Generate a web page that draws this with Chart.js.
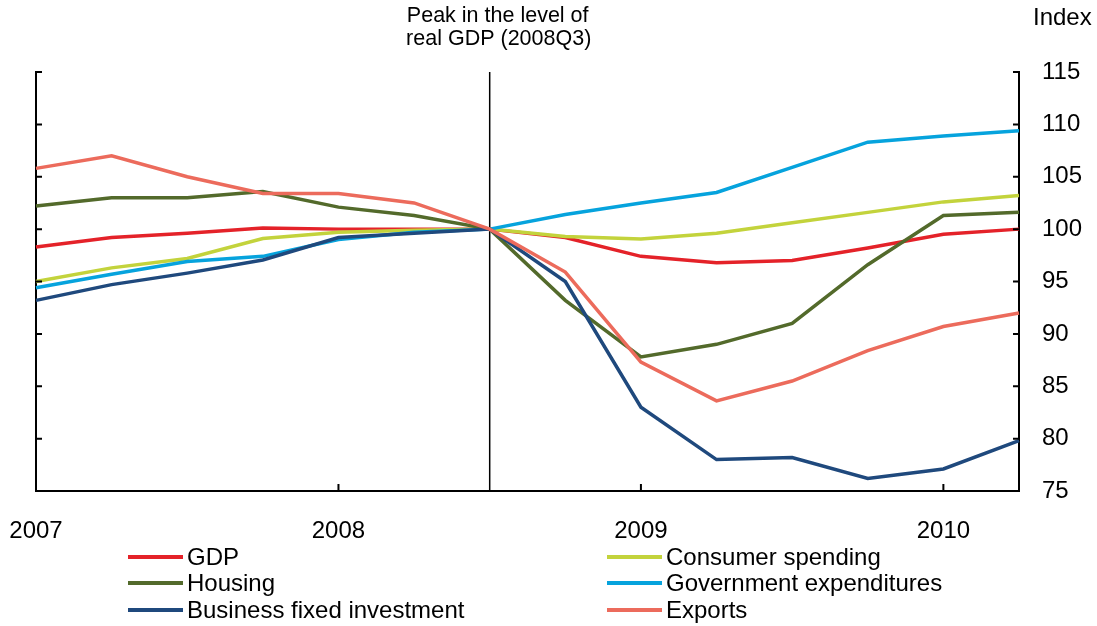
<!DOCTYPE html>
<html><head><meta charset="utf-8">
<script src="https://cdn.jsdelivr.net/npm/chart.js@4/dist/chart.umd.min.js"></script>
<style>
html,body{margin:0;padding:0;background:#fff}
#wrap{position:relative;width:1097px;height:626px}
</style>
</head><body>
<div id="wrap"><canvas id="c" width="1097" height="626"></canvas></div>
<script>
const quarters = ['2007Q1','2007Q2','2007Q3','2007Q4','2008Q1','2008Q2','2008Q3','2008Q4','2009Q1','2009Q2','2009Q3','2009Q4','2010Q1','2010Q2'];
const yearLabels = {'2007Q1':'2007','2008Q1':'2008','2009Q1':'2009','2010Q1':'2010'};
const peakQuarter = '2008Q3';
const yTicks = [75,80,85,90,95,100,105,110,115];

const gdp        = [98.3, 99.2, 99.6, 100.1, 100.0, 100.0, 100, 99.2, 97.4, 96.8, 97.0, 98.2, 99.5, 100.0];
const consumer   = [95.0, 96.3, 97.2, 99.1, 99.7, 99.9, 100, 99.3, 99.05, 99.6, 100.6, 101.6, 102.6, 103.2];
const housing    = [102.2, 103.0, 103.0, 103.6, 102.1, 101.3, 100, 93.2, 87.8, 89.0, 91.0, 96.6, 101.3, 101.6];
const government = [94.4, 95.7, 96.9, 97.4, 99.0, 99.7, 100, 101.4, 102.5, 103.5, 105.9, 108.3, 108.9, 109.4];
const business   = [93.2, 94.7, 95.8, 97.05, 99.2, 99.6, 100, 95.0, 83.0, 78.0, 78.2, 76.2, 77.1, 79.8];
const exportsS   = [105.8, 107.0, 105.0, 103.4, 103.4, 102.5, 100, 95.9, 87.3, 83.6, 85.5, 88.4, 90.7, 92.0];

const seriesNames  = ['GDP','Consumer spending','Housing','Government expenditures','Business fixed investment','Exports'];
const seriesData   = [gdp, consumer, housing, government, business, exportsS];
const seriesColors = ['#e42229','#c3d33c','#536a2b','#06a3dd','#1f497d','#ec6b5c'];

const FONT = '"Liberation Sans", Arial, sans-serif';

const datasets = seriesNames.map((n,i)=>({
  label:n, data:seriesData[i], borderColor:seriesColors[i], backgroundColor:seriesColors[i],
  borderWidth:3.5, pointRadius:0, tension:0, fill:false, order:seriesNames.length-i
}));

const deco = {
  id:'deco',
  beforeDatasetsDraw(chart){
    const ctx=chart.ctx, x=chart.scales.x, ca=chart.chartArea;
    const px=x.getPixelForValue(quarters.indexOf(peakQuarter));
    ctx.save();
    ctx.strokeStyle='#000'; ctx.lineWidth=1.5;
    ctx.beginPath(); ctx.moveTo(px,ca.top); ctx.lineTo(px,ca.bottom); ctx.stroke();
    ctx.restore();
  },
  afterDraw(chart){
    const ctx=chart.ctx, x=chart.scales.x, yr=chart.scales.y, ca=chart.chartArea;
    ctx.save();
    ctx.strokeStyle='#000'; ctx.lineWidth=2;
    ctx.beginPath();
    yTicks.forEach(v=>{
      const py=yr.getPixelForValue(v);
      ctx.moveTo(ca.left,py); ctx.lineTo(ca.left+6,py);
      ctx.moveTo(ca.right,py); ctx.lineTo(ca.right-6,py);
    });
    quarters.forEach((q,i)=>{
      if(yearLabels[q]){
        const px=x.getPixelForValue(i);
        ctx.moveTo(px,ca.bottom); ctx.lineTo(px,ca.bottom-7);
      }
    });
    ctx.stroke();
    // annotation
    ctx.fillStyle='#000';
    ctx.font='21.5px '+FONT;
    ctx.textAlign='center'; ctx.textBaseline='alphabetic';
    const px=x.getPixelForValue(quarters.indexOf(peakQuarter));
    ctx.fillText('Peak in the level of', px+8, 22);
    ctx.fillText('real GDP (2008Q3)', px+9, 45);
    ctx.font='24px '+FONT;
    ctx.textAlign='left';
    ctx.fillText('Index', 1033, 25);
    // legend
    const colX=[128,607], rowY=[557,583,610];
    ctx.textBaseline='middle';
    seriesNames.forEach((n,i)=>{
      const cx=colX[i%2], cy=rowY[Math.floor(i/2)];
      ctx.strokeStyle=seriesColors[i]; ctx.lineWidth=4;
      ctx.beginPath(); ctx.moveTo(cx,cy); ctx.lineTo(cx+55,cy); ctx.stroke();
      ctx.fillStyle='#000';
      ctx.fillText(n, cx+59, cy+1);
    });
    ctx.restore();
  }
};

new Chart(document.getElementById('c'), {
  type:'line',
  data:{labels:quarters, datasets},
  options:{
    responsive:false, animation:false, devicePixelRatio:1,
    layout:{padding:{top:72,left:0,right:0,bottom:0}},
    plugins:{legend:{display:false}, tooltip:{enabled:false}},
    scales:{
      x:{
        type:'category', offset:false, position:'bottom',
        grid:{display:false, drawTicks:false},
        border:{display:true, color:'#000', width:2},
        ticks:{autoSkip:false, maxRotation:0, padding:26, color:'#000', font:{family:FONT,size:24},
          callback:function(v,i){ return yearLabels[quarters[i]]||''; }},
        afterFit(s){ s.height=135; s.paddingLeft=0; s.paddingRight=0; }
      },
      y:{
        position:'right', min:75, max:115,
        grid:{display:false, drawTicks:false},
        border:{display:true, color:'#000', width:2},
        ticks:{stepSize:5, padding:23, color:'#000', font:{family:FONT,size:24}},
        afterFit(s){ s.width=78; s.paddingTop=0; s.paddingBottom=0; }
      },
      yl:{
        position:'left', min:75, max:115,
        grid:{display:false, drawTicks:false},
        border:{display:true, color:'#000', width:2},
        ticks:{display:false},
        afterFit(s){ s.width=36; s.paddingTop=0; s.paddingBottom=0; }
      }
    }
  },
  plugins:[deco]
});
</script>
</body></html>
